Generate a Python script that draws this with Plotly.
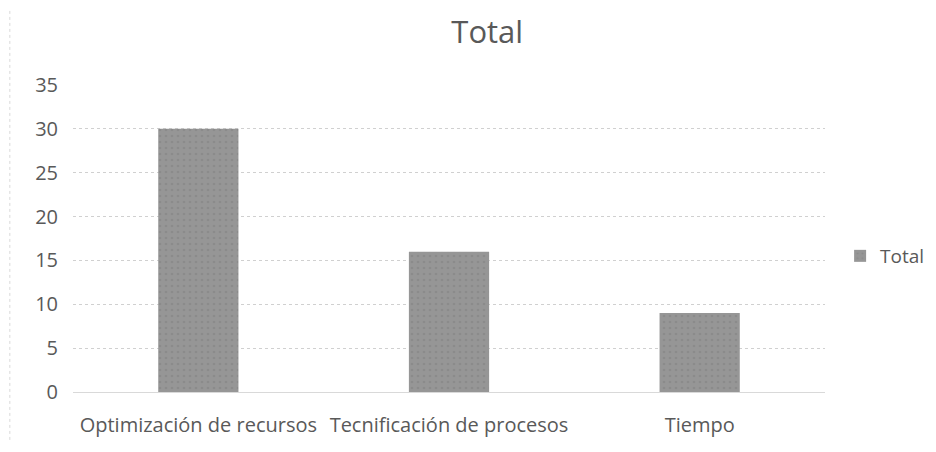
import plotly.graph_objects as go

categories = ["Optimización de recursos", "Tecnificación de procesos", "Tiempo"]
values = [30, 16, 9]
series_name = "Total"
y_ticks = [0, 5, 10, 15, 20, 25, 30, 35]

FONT = "Open Sans, sans-serif"
TXT = "#595959"

fig = go.Figure()
fig.add_trace(go.Bar(
    x=categories, y=values, name=series_name,
    marker=dict(color="#969696", line=dict(width=0),
                pattern=dict(shape=".", fgcolor="#7f7f7f", bgcolor="#969696", size=6, solidity=0.15)),
    width=0.32,
))

fig.update_layout(
    width=936, height=452,
    margin=dict(l=65, r=119, t=77, b=68, autoexpand=False),
    paper_bgcolor="white", plot_bgcolor="white",
    font=dict(family=FONT, color=TXT, size=20),
    title=dict(text="Total", x=0.512, xanchor="center", y=0.947, yanchor="middle",
               font=dict(size=31, color=TXT, family=FONT)),
    showlegend=True,
    legend=dict(xref="container", yref="container", x=0.889, xanchor="left",
                y=1 - (256 - 8) / 452, yanchor="middle",
                font=dict(size=19, color=TXT), itemwidth=30),
    xaxis=dict(showgrid=False, showline=True, linecolor="#d9d9d9", linewidth=1,
               ticks="", tickfont=dict(size=20, color=TXT), ticklabelstandoff=15),
    yaxis=dict(range=[0, 35], tickvals=y_ticks, showgrid=True, gridcolor="#d0d0d0",
               griddash="dot", zeroline=False, showline=False, ticks="",
               tickfont=dict(size=20, color=TXT), ticklabelstandoff=14),
    shapes=[dict(type="line", xref="paper", yref="paper", x0=-0.084, x1=-0.084,
                 y0=-0.156, y1=1.244, line=dict(color="#d9d9d9", width=1, dash="dot"))],
)

fig.write_html("out.html")
